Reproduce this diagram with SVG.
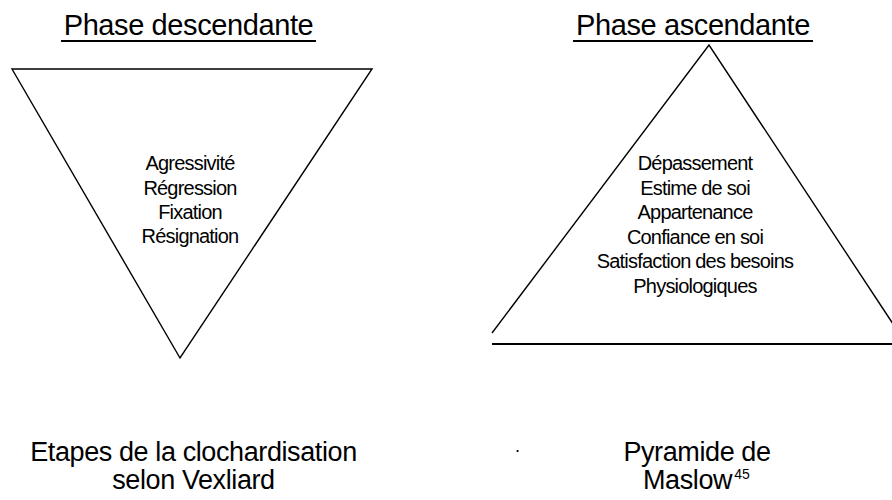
<svg xmlns="http://www.w3.org/2000/svg" width="892" height="500" viewBox="0 0 892 500">
  <style>
    .t { font-family: "Liberation Sans", Arial, sans-serif; fill: #000; }
    .title { font-size: 29px; text-anchor: middle; letter-spacing: -0.4px; }
    .inner { font-size: 20px; text-anchor: middle; letter-spacing: -0.8px; }
    .cap { font-size: 27px; text-anchor: middle; letter-spacing: -0.4px; }
    .shape { fill: none; stroke: #000; stroke-width: 1.4; stroke-linejoin: miter; }
    .rule { stroke: #000; stroke-width: 2; }
  </style>
  <rect width="892" height="500" fill="#fff"/>

  <!-- Left: descending phase -->
  <g id="descendante">
    <text class="t title" x="188.5" y="35">Phase descendante</text>
    <line class="rule" x1="61" y1="41" x2="316" y2="41"/>
    <polygon class="shape" points="12,69 372,69 180,358"/>
    <text class="t inner" x="190" y="170">Agressivité</text>
    <text class="t inner" x="190" y="194.5">Régression</text>
    <text class="t inner" x="190" y="219">Fixation</text>
    <text class="t inner" x="190" y="243">Résignation</text>
  </g>

  <!-- Right: ascending phase (Maslow pyramid) -->
  <g id="ascendante">
    <text class="t title" x="693" y="35">Phase ascendante</text>
    <line class="rule" x1="573" y1="41" x2="813" y2="41"/>
    <polyline class="shape" points="492,333 709,45 899,333"/>
    <line class="rule" x1="492" y1="344" x2="892" y2="344"/>
    <text class="t inner" x="695" y="170">Dépassement</text>
    <text class="t inner" x="695" y="194.5">Estime de soi</text>
    <text class="t inner" x="695" y="219">Appartenance</text>
    <text class="t inner" x="695" y="243.5">Confiance en soi</text>
    <text class="t inner" x="695" y="268">Satisfaction des besoins</text>
    <text class="t inner" x="695" y="292.5">Physiologiques</text>
  </g>

  <!-- Captions -->
  <g id="caption-left">
    <text class="t cap" x="193.5" y="461">Etapes de la clochardisation</text>
    <text class="t cap" x="193.5" y="489">selon Vexliard</text>
  </g>
  <g id="caption-right">
    <text class="t" x="515" y="452" font-size="18">.</text>
    <text class="t cap" x="697" y="461">Pyramide de</text>
    <text class="t" x="643" y="489" font-size="27" letter-spacing="-0.4">Maslow<tspan dx="2" dy="-10" font-size="14" letter-spacing="0">45</tspan></text>
  </g>
</svg>
